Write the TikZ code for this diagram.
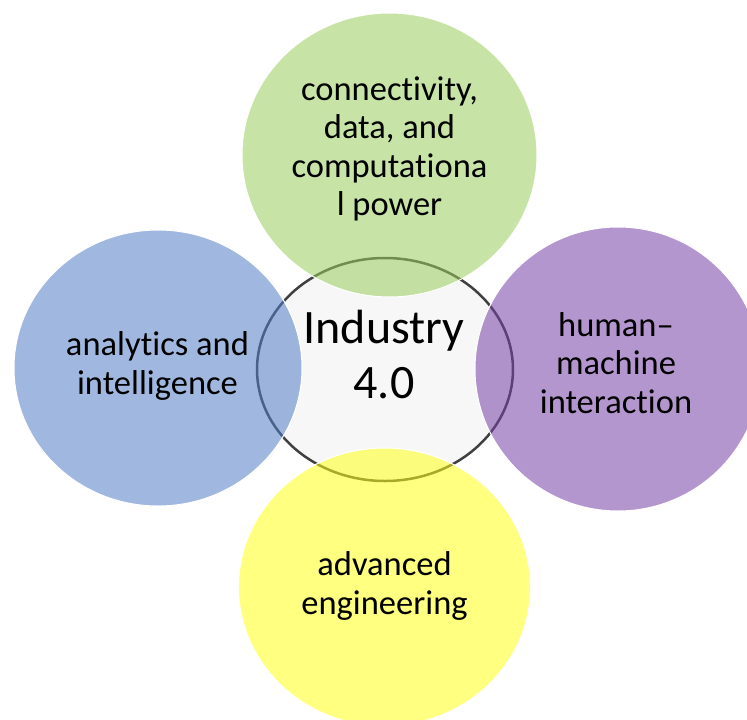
\documentclass[tikz,border=0pt]{standalone}
\usepackage{fontspec}
\setmainfont{Carlito}[Ligatures={NoCommon}]
\usetikzlibrary{shapes.geometric}
\definecolor{cgreen}{RGB}{153,206,93}
\definecolor{cblue}{RGB}{82,126,199}
\definecolor{cpurple}{RGB}{119,64,166}
\definecolor{cyellow}{RGB}{255,255,24}
\definecolor{corefill}{HTML}{F7F7F7}
\definecolor{coreline}{HTML}{404040}
\begin{document}
\begin{tikzpicture}[x=1pt,y=-1pt,
  blob/.style={ellipse, inner sep=0pt, outer sep=0pt, fill opacity=0.55, draw=white, line width=1pt},
  core/.style={ellipse, inner sep=0pt, outer sep=0pt, fill=corefill, draw=coreline, line width=2.5pt},
  lbl/.style={align=center, text=black, inner sep=0pt, font=\fontsize{34.5}{38.5}\selectfont},
  biglbl/.style={align=center, text=black, inner sep=0pt, font=\fontsize{48}{55}\selectfont}]
\useasboundingbox (0,0) rectangle (747,720);
\clip (0,0) rectangle (747,720);
\node[core, minimum width=256pt, minimum height=223pt] (core) at (385,369.5) {};
\node[blob, fill=cgreen, minimum width=295pt, minimum height=284pt] (conn) at (389.5,155) {};
\node[blob, fill=cblue, minimum width=288pt, minimum height=276pt] (anal) at (158,368) {};
\node[blob, fill=cpurple, minimum width=286pt, minimum height=284pt] (human) at (618,369) {};
\node[blob, fill=cyellow, minimum width=292pt, minimum height=278pt] (adv) at (384.5,587) {};
\node[lbl] (tconn) at (389.5,149) {connectivity,\\data, and\\computationa\\l power};
\node[lbl] (tanal) at (157.5,366) {analytics and\\intelligence};
\node[lbl] (thuman) at (616,363) {human–\\machine\\interaction};
\node[lbl] (tadv) at (384.5,586) {advanced\\engineering};
\node[biglbl] (tcore) at (384,355) {Industry\\4.0};
\end{tikzpicture}
\end{document}
